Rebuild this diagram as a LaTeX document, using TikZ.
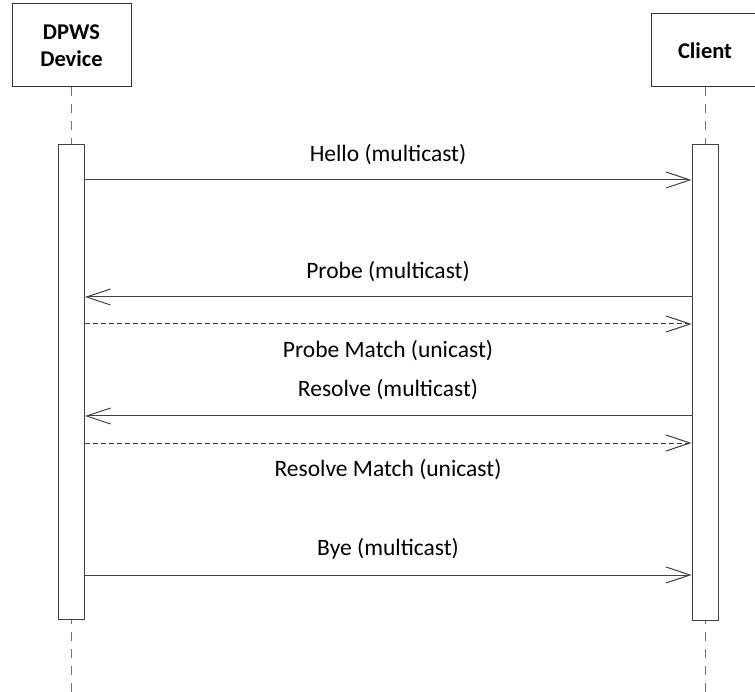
\documentclass[tikz,border=0pt]{standalone}
\usepackage{fontspec}
\setmainfont{Carlito}
\usetikzlibrary{arrows.meta}
\begin{document}
\begin{tikzpicture}[x=1pt,y=-1pt,
  line width=1pt,
  actor/.style={draw=black!80, fill=white, minimum width=119pt, minimum height=83pt,
    font=\fontsize{22.5}{27}\selectfont\bfseries, align=center, inner sep=0pt},
  activation/.style={draw=black!75, fill=white, minimum width=26pt, inner sep=0pt},
  lifeline/.style={draw=black!55, dash pattern=on 9pt off 8pt},
  msg/.style={draw=black!75, -{Straight Barb[length=24pt,width=16pt,line width=1pt]}},
  reply/.style={msg, dash pattern=on 5pt off 3pt},
  lbl/.style={font=\fontsize{23.5}{28}\selectfont, inner sep=0pt}]
\useasboundingbox (0,0) rectangle (755,692);

% participants
\node[actor] (dev) at (71.5,45.5) {DPWS\\Device};
\node[actor] (cli) at (705,50.5) [minimum width=107pt, minimum height=73pt] {Client};

% lifelines
\coordinate (devEnd) at (71.5,692);
\coordinate (cliEnd) at (705,692);
\draw[lifeline] (dev.south) -- (devEnd);
\draw[lifeline] (cli.south) -- (cliEnd);

% activation bars
\node[activation, minimum height=474pt] (devAct) at (71.5,382) {};
\node[activation, minimum height=475pt] (cliAct) at (705,382.5) {};

% messages
\coordinate (d1) at (devAct.east |- 0,180);
\coordinate (c1) at (cliAct.west |- 0,180);
\draw[msg] (d1) -- (c1);
\node[lbl] (l1) at (388,155) {Hello (multicast)};

\coordinate (d2) at (devAct.east |- 0,297);
\coordinate (c2) at (cliAct.west |- 0,297);
\draw[msg] (c2) -- (d2);
\node[lbl] (l2) at (388,272) {Probe (multicast)};

\coordinate (d3) at (devAct.east |- 0,324);
\coordinate (c3) at (cliAct.west |- 0,324);
\draw[reply] (d3) -- (c3);
\node[lbl] (l3) at (388,351) {Probe Match (unicast)};

\coordinate (d4) at (devAct.east |- 0,416);
\coordinate (c4) at (cliAct.west |- 0,416);
\draw[msg] (c4) -- (d4);
\node[lbl] (l4) at (388,390) {Resolve (multicast)};

\coordinate (d5) at (devAct.east |- 0,443);
\coordinate (c5) at (cliAct.west |- 0,443);
\draw[reply] (d5) -- (c5);
\node[lbl] (l5) at (388,470) {Resolve Match (unicast)};

\coordinate (d6) at (devAct.east |- 0,575);
\coordinate (c6) at (cliAct.west |- 0,575);
\draw[msg] (d6) -- (c6);
\node[lbl] (l6) at (388,549) {Bye (multicast)};
\end{tikzpicture}
\end{document}
